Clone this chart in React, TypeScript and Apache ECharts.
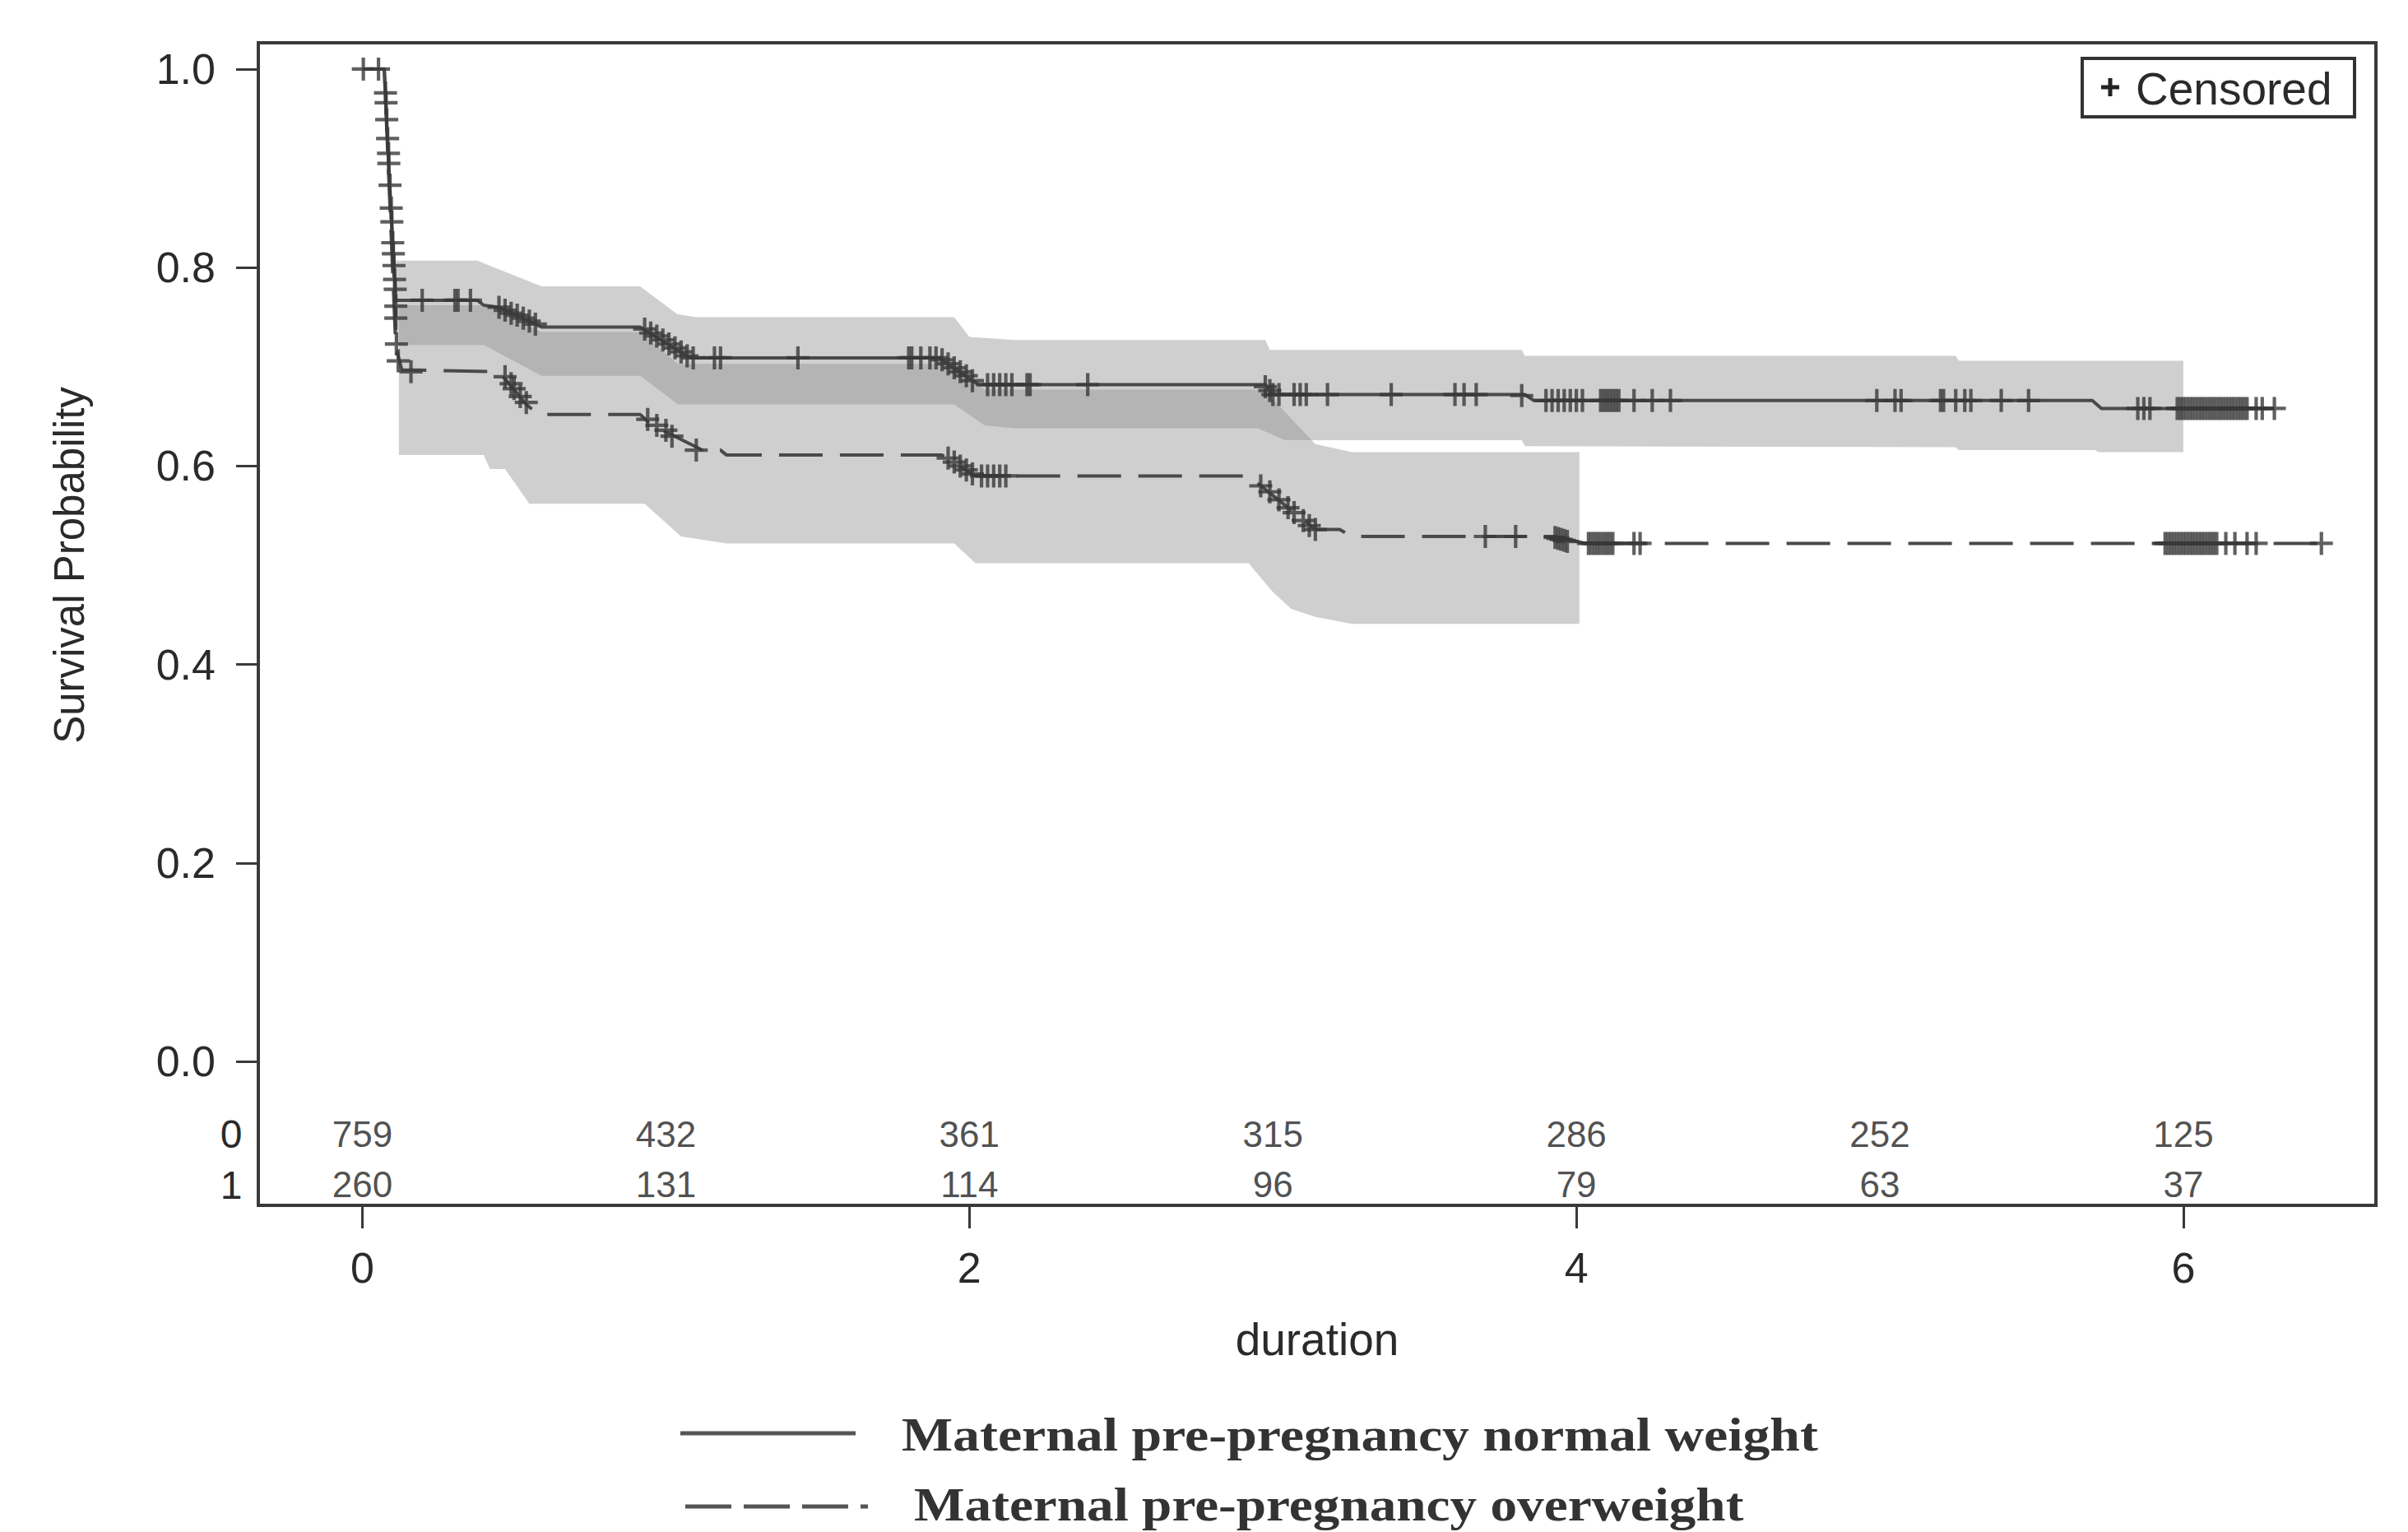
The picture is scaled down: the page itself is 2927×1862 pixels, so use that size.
import React, { useEffect, useRef } from 'react';
import * as echarts from 'echarts';

// ---------- data ----------
const xTicks = [0, 2, 4, 6];
const yTicks = [0, 0.2, 0.4, 0.6, 0.8, 1.0];
const riskTimes = [0, 1, 2, 3, 4, 5, 6];
const riskNormal = [759, 432, 361, 315, 286, 252, 125];
const riskOver = [260, 131, 114, 96, 79, 63, 37];
const riskGroups = ['0', '1'];

const normalCurve = [
  [0, 1.0], [0.072, 1.0], [0.09, 0.88], [0.11, 0.767], [0.378, 0.767], [0.40, 0.762], [0.45, 0.760],
  [0.59, 0.740], [0.915, 0.740], [1.08, 0.709], [1.90, 0.709], [2.03, 0.682], [2.975, 0.682],
  [3.0, 0.672], [3.83, 0.672], [3.86, 0.666], [5.70, 0.666], [5.73, 0.658], [6.30, 0.658],
];
const overCurve = [
  [0, 1.0], [0.072, 1.0], [0.11, 0.72], [0.13, 0.697], [0.44, 0.695], [0.47, 0.688], [0.54, 0.662],
  [0.58, 0.652], [0.915, 0.652], [0.95, 0.642], [1.12, 0.616], [1.18, 0.616], [1.20, 0.611],
  [1.91, 0.611], [2.02, 0.590], [2.92, 0.590], [3.14, 0.536], [3.22, 0.536], [3.26, 0.529],
  [3.93, 0.529], [4.03, 0.522], [6.455, 0.522],
];

const normalCensor = [
  [0.003, 1.0],
  [0.076, 0.976], [0.078, 0.966], [0.080, 0.949], [0.083, 0.930], [0.086, 0.915], [0.087, 0.905],
  [0.091, 0.883], [0.095, 0.860], [0.097, 0.846], [0.100, 0.825], [0.102, 0.814], [0.104, 0.802],
  [0.106, 0.788], [0.108, 0.778],
  [0.197, 0.767], [0.305, 0.767], [0.315, 0.767], [0.356, 0.767],
  [0.45, 0.760], [0.47, 0.757], [0.49, 0.754], [0.51, 0.752], [0.53, 0.749], [0.55, 0.746], [0.57, 0.743],
  [0.93, 0.738], [0.95, 0.734], [0.97, 0.731], [0.99, 0.727], [1.01, 0.723], [1.03, 0.719], [1.05, 0.715],
  [1.07, 0.711], [1.09, 0.709], [1.16, 0.709], [1.18, 0.709],
  [1.435, 0.709], [1.80, 0.709], [1.81, 0.709], [1.84, 0.709], [1.87, 0.709], [1.89, 0.709],
  [1.91, 0.707], [1.93, 0.703], [1.95, 0.699], [1.97, 0.695], [1.99, 0.691], [2.01, 0.686],
  [2.06, 0.682], [2.08, 0.682], [2.10, 0.682], [2.12, 0.682], [2.14, 0.682], [2.19, 0.682], [2.20, 0.682], [2.39, 0.682],
  [2.975, 0.680], [2.99, 0.676], [3.0, 0.672], [3.02, 0.672], [3.07, 0.672], [3.09, 0.672], [3.11, 0.672],
  [3.18, 0.672], [3.39, 0.672], [3.60, 0.672], [3.63, 0.672], [3.67, 0.672], [3.82, 0.671],
  [3.90, 0.666], [3.92, 0.666], [3.94, 0.666], [3.96, 0.666], [3.98, 0.666], [4.00, 0.666], [4.02, 0.666],
  [4.08, 0.666], [4.09, 0.666], [4.10, 0.666], [4.11, 0.666], [4.12, 0.666], [4.13, 0.666], [4.14, 0.666],
  [4.19, 0.666], [4.25, 0.666], [4.31, 0.666],
  [4.99, 0.666], [5.05, 0.666], [5.07, 0.666], [5.20, 0.666], [5.21, 0.666], [5.25, 0.666], [5.28, 0.666],
  [5.30, 0.666], [5.40, 0.666], [5.49, 0.666],
  [5.85, 0.658], [5.87, 0.658], [5.89, 0.658],
  [5.98, 0.658], [5.99, 0.658], [6.00, 0.658], [6.01, 0.658], [6.02, 0.658], [6.03, 0.658], [6.04, 0.658],
  [6.05, 0.658], [6.06, 0.658], [6.07, 0.658], [6.08, 0.658], [6.09, 0.658], [6.10, 0.658], [6.11, 0.658],
  [6.12, 0.658], [6.13, 0.658], [6.14, 0.658], [6.15, 0.658], [6.16, 0.658], [6.17, 0.658], [6.18, 0.658],
  [6.19, 0.658], [6.20, 0.658], [6.21, 0.658],
  [6.24, 0.658], [6.26, 0.658], [6.30, 0.658],
];
const overCensor = [
  [0.053, 1.0],
  [0.110, 0.761], [0.110, 0.749], [0.112, 0.723], [0.118, 0.706], [0.16, 0.695],
  [0.47, 0.690], [0.49, 0.683], [0.50, 0.678], [0.52, 0.670], [0.54, 0.664],
  [0.94, 0.647], [0.97, 0.641], [1.00, 0.636], [1.02, 0.630], [1.10, 0.616],
  [1.93, 0.608], [1.95, 0.604], [1.97, 0.600], [1.99, 0.596], [2.01, 0.592], [2.04, 0.590], [2.06, 0.590],
  [2.08, 0.590], [2.10, 0.590], [2.12, 0.590],
  [2.96, 0.580], [2.99, 0.574], [3.02, 0.566], [3.05, 0.558], [3.07, 0.553], [3.10, 0.545], [3.12, 0.540], [3.14, 0.536],
  [3.70, 0.529], [3.80, 0.529],
  [3.93, 0.528], [3.94, 0.527], [3.95, 0.526], [3.96, 0.525], [3.97, 0.524],
  [4.04, 0.522], [4.05, 0.522], [4.06, 0.522], [4.07, 0.522], [4.08, 0.522], [4.09, 0.522], [4.10, 0.522],
  [4.11, 0.522], [4.12, 0.522], [4.19, 0.522], [4.21, 0.522],
  [5.94, 0.522], [5.95, 0.522], [5.96, 0.522], [5.97, 0.522], [5.98, 0.522], [5.99, 0.522], [6.00, 0.522],
  [6.01, 0.522], [6.02, 0.522], [6.03, 0.522], [6.04, 0.522], [6.05, 0.522], [6.06, 0.522], [6.07, 0.522],
  [6.08, 0.522], [6.09, 0.522], [6.10, 0.522], [6.11, 0.522],
  [6.14, 0.522], [6.17, 0.522], [6.21, 0.522], [6.24, 0.522], [6.455, 0.522],
];

const normalBandUpper = [
  [0.11, 0.807], [0.378, 0.807], [0.59, 0.781], [0.915, 0.781], [1.037, 0.753], [1.10, 0.750],
  [1.95, 0.750], [2.0, 0.730], [2.15, 0.727], [2.975, 0.727], [2.99, 0.717], [3.82, 0.717],
  [3.83, 0.711], [5.25, 0.711], [5.26, 0.706], [6.0, 0.706],
];
const normalBandLower = [
  [0.11, 0.722], [0.40, 0.722], [0.59, 0.691], [0.915, 0.691], [1.04, 0.662], [1.95, 0.662],
  [2.05, 0.641], [2.15, 0.638], [2.95, 0.638], [3.04, 0.626], [3.82, 0.626], [3.83, 0.620],
  [5.25, 0.619], [5.26, 0.616], [5.71, 0.616], [5.72, 0.614], [6.0, 0.614],
];
const overBandUpper = [
  [0.12, 0.762], [0.40, 0.762], [0.59, 0.735], [0.915, 0.735], [1.04, 0.703], [1.95, 0.703],
  [2.05, 0.677], [2.97, 0.677], [3.14, 0.622], [3.26, 0.614], [4.01, 0.614],
];
const overBandLower = [
  [0.12, 0.611], [0.40, 0.611], [0.42, 0.597], [0.47, 0.597], [0.55, 0.562], [0.93, 0.562],
  [1.05, 0.529], [1.20, 0.522], [1.95, 0.522], [2.02, 0.502], [2.92, 0.502], [3.0, 0.473],
  [3.06, 0.456], [3.14, 0.448], [3.26, 0.441], [4.01, 0.441],
];

// ---------- layout ----------
const W = 2927;
const H = 1862;
const GRID = { left: 314, right: 39, top: 52, bottom: 397 };
const X_MIN = -0.343;
const X_MAX = 6.6346;
const Y_MIN = -0.1451;
const Y_MAX = 1.0265;
const RISK_ROW_Y = [-0.073, -0.124];
const SANS = '"Liberation Sans", Arial, sans-serif';
const SERIF = '"Liberation Serif", "Times New Roman", serif';
const INK = '#2a2a2a';
const LINE = '#4a4a4a';
const MARK = '#383838';
const FRAME = '#3a3a3a';
const BAND = 'rgba(145,145,145,0.44)';
const PLUS = 'path://M8.5,0H11.5V8.5H20V11.5H11.5V20H8.5V11.5H0V8.5H8.5Z';

function bandSeries(upper: number[][], lower: number[][]) {
  const pts = [...upper, ...lower.slice().reverse()];
  return {
    type: 'custom',
    data: pts,
    encode: { x: 0, y: 1 },
    silent: true,
    z: 1,
    renderItem: (params: any, api: any) => {
      if (params.dataIndex !== 0) return null;
      const points = pts.map((p) => api.coord(p));
      return { type: 'polygon', shape: { points }, style: { fill: BAND } };
    },
  };
}

function riskSeries(counts: number[], row: number) {
  return {
    type: 'scatter',
    data: riskTimes.map((t, i) => [t, RISK_ROW_Y[row], counts[i]]),
    symbolSize: 1,
    itemStyle: { color: 'rgba(0,0,0,0)' },
    silent: true,
    z: 5,
    label: {
      show: true,
      position: 'inside',
      formatter: (p: any) => String(p.value[2]),
      fontSize: 44,
      fontFamily: SANS,
      color: '#222',
    },
  };
}

export default function App() {
  const ref = useRef<HTMLDivElement>(null);
  useEffect(() => {
    if (!ref.current) return;
    const chart = echarts.init(ref.current, undefined, { renderer: 'svg' });
    const option: any = {
      animation: false,
      backgroundColor: '#ffffff',
      grid: { ...GRID, show: true, borderColor: FRAME, borderWidth: 4, backgroundColor: 'transparent' },
      xAxis: {
        type: 'value',
        min: X_MIN,
        max: X_MAX,
        splitLine: { show: false },
        axisLine: { show: true, onZero: false, lineStyle: { color: FRAME, width: 4 } },
        axisTick: { show: true, customValues: xTicks, length: 28, lineStyle: { color: FRAME, width: 3 } },
        axisLabel: { customValues: xTicks, fontSize: 52, fontFamily: SANS, color: INK, margin: 50 },
      },
      yAxis: {
        type: 'value',
        min: Y_MIN,
        max: Y_MAX,
        splitLine: { show: false },
        axisLine: { show: true, onZero: false, lineStyle: { color: FRAME, width: 4 } },
        axisTick: { show: true, customValues: yTicks, length: 27, lineStyle: { color: FRAME, width: 3 } },
        axisLabel: {
          customValues: yTicks,
          fontSize: 52,
          fontFamily: SANS,
          color: INK,
          margin: 52,
          formatter: (v: number) => v.toFixed(1),
        },
      },
      series: [
        bandSeries(normalBandUpper, normalBandLower),
        bandSeries(overBandUpper, overBandLower),
        {
          type: 'line',
          data: normalCurve,
          showSymbol: false,
          silent: true,
          z: 3,
          lineStyle: { color: LINE, width: 4 },
        },
        {
          type: 'line',
          data: overCurve,
          showSymbol: false,
          silent: true,
          z: 3,
          lineStyle: { color: LINE, width: 4, type: [53, 21] },
        },
        {
          type: 'scatter',
          data: normalCensor,
          symbol: PLUS,
          symbolSize: 28,
          silent: true,
          z: 4,
          itemStyle: { color: MARK },
        },
        {
          type: 'scatter',
          data: overCensor,
          symbol: PLUS,
          symbolSize: 28,
          silent: true,
          z: 4,
          itemStyle: { color: MARK },
        },
        riskSeries(riskNormal, 0),
        riskSeries(riskOver, 1),
      ],
      graphic: [
        // Censored legend box
        { type: 'rect', z: 10, shape: { x: 2531, y: 71, width: 331, height: 71 }, style: { fill: '#fff', stroke: '#333', lineWidth: 4 } },
        { type: 'line', z: 11, shape: { x1: 2554, y1: 106, x2: 2576, y2: 106 }, style: { stroke: '#222', lineWidth: 5 } },
        { type: 'line', z: 11, shape: { x1: 2565, y1: 95, x2: 2565, y2: 117 }, style: { stroke: '#222', lineWidth: 5 } },
        { type: 'text', z: 11, x: 2596, y: 108, style: { text: 'Censored', fontSize: 55, fontFamily: SANS, fill: INK, textAlign: 'left', textVerticalAlign: 'middle' } },
        // axis titles
        { type: 'text', x: 84, y: 687, rotation: Math.PI / 2, style: { text: 'Survival Probability', fontSize: 51, fontFamily: SANS, fill: INK, textAlign: 'center', textVerticalAlign: 'middle' } },
        { type: 'text', x: 1601, y: 1628, style: { text: 'duration', fontSize: 55, fontFamily: SANS, fill: INK, textAlign: 'center', textVerticalAlign: 'middle' } },
        // at-risk group labels
        { type: 'text', x: 281, y: 1378, style: { text: riskGroups[0], fontSize: 48, fontFamily: SANS, fill: INK, textAlign: 'center', textVerticalAlign: 'middle' } },
        { type: 'text', x: 281, y: 1440, style: { text: riskGroups[1], fontSize: 48, fontFamily: SANS, fill: INK, textAlign: 'center', textVerticalAlign: 'middle' } },
        // bottom legend
        { type: 'line', shape: { x1: 827, y1: 1742, x2: 1040, y2: 1742 }, style: { stroke: '#555', lineWidth: 5 } },
        { type: 'line', shape: { x1: 833, y1: 1831, x2: 1055, y2: 1831 }, style: { stroke: '#555', lineWidth: 5, lineDash: [56, 15] } },
        { type: 'text', x: 1096, y: 1744, scaleX: 1.175, style: { text: 'Maternal pre-pregnancy normal weight', fontSize: 56, fontWeight: 'bold', fontFamily: SERIF, fill: '#333', textAlign: 'left', textVerticalAlign: 'middle' } },
        { type: 'text', x: 1111, y: 1829, scaleX: 1.165, style: { text: 'Maternal pre-pregnancy overweight', fontSize: 56, fontWeight: 'bold', fontFamily: SERIF, fill: '#333', textAlign: 'left', textVerticalAlign: 'middle' } },
      ],
    };
    chart.setOption(option);
    return () => chart.dispose();
  }, []);
  return <div ref={ref} style={{ position: 'absolute', left: 0, top: 0, width: W, height: H }} />;
}
